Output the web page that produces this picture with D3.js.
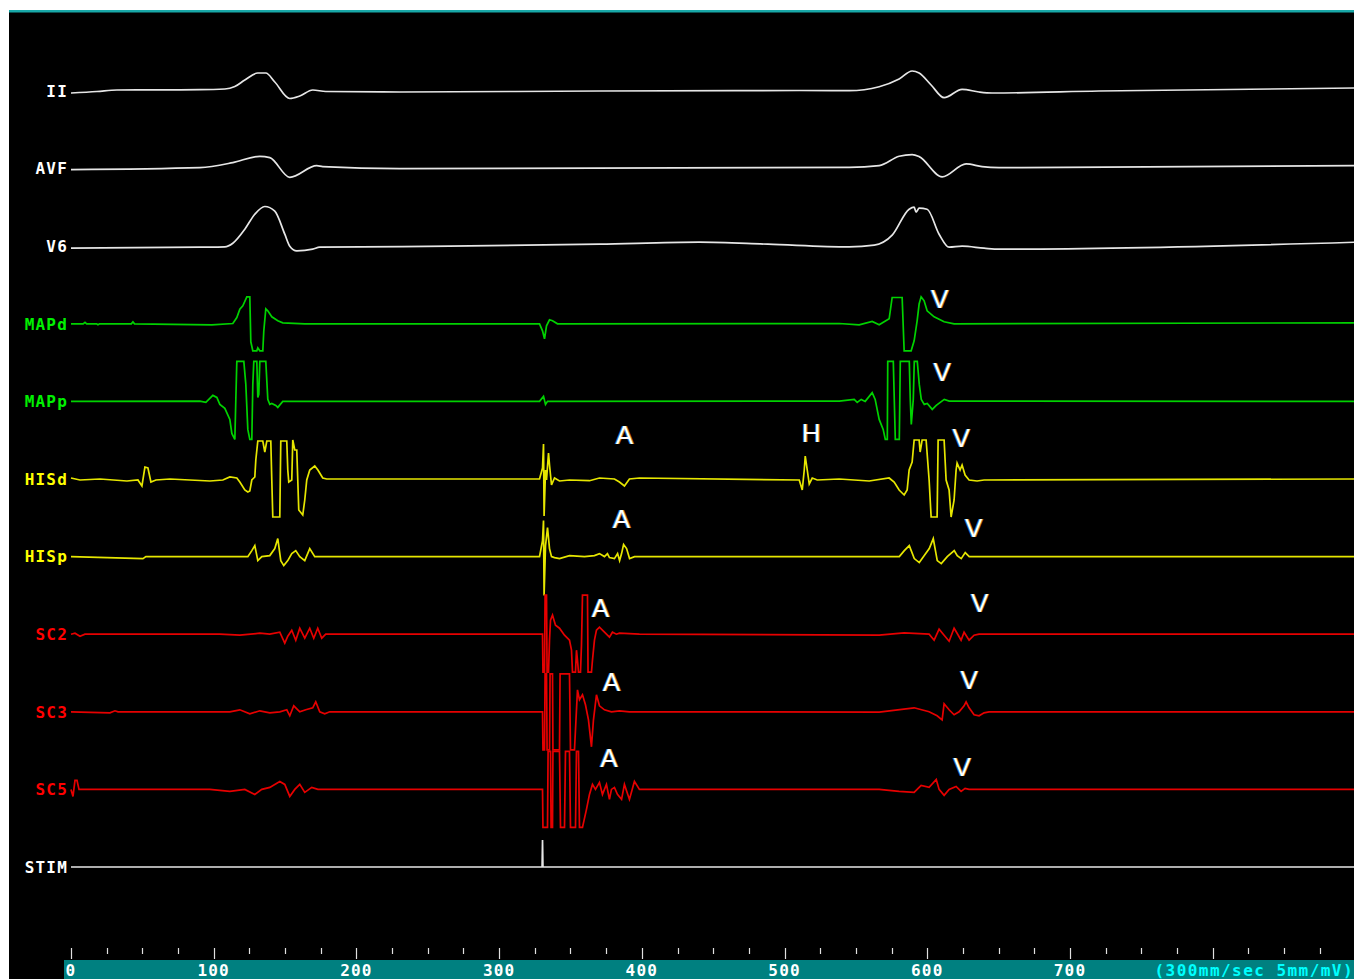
<!DOCTYPE html>
<html>
<head>
<meta charset="utf-8">
<script src="https://cdn.jsdelivr.net/npm/d3@7"></script>
<style>
  html, body { margin: 0; padding: 0; background: #ffffff; }
  svg { display: block; }
</style>
</head>
<body>
<svg id="chart" width="1354" height="979"></svg>
<script>
// Channel names, top to bottom
const channelNames = ["II", "AVF", "V6", "MAPd", "MAPp", "HISd", "HISp", "SC2", "SC3", "SC5", "STIM"];

// Time axis ticks (ms)
const majorTicks = [0, 100, 200, 300, 400, 500, 600, 700];
const minorStep = 25;
const sweepNote = "(300mm/sec 5mm/mV)";

// Samples: [time ms, amplitude]
const leadII = [[0,-2],[18.2,-0.5],[32.2,1],[90.3,1.3],[107.8,2],[114.8,4.5],[121.8,11],[130.9,18],[136.5,18],[142.8,9],[153.3,-7.5],[160.3,-5],[169.4,1],[178.5,-0.5],[230.3,-1],[370.3,0],[510.3,0.5],[545.3,0.3],[566.3,4.3],[580.3,12],[589.4,20],[594.3,18],[602.7,6],[611.8,-6.7],[624.4,1.7],[636.3,-1],[645.4,-2],[720.3,0],[900,3]];
const leadAVF = [[0,-1],[90.3,1],[113.4,6],[132.3,12.3],[139.3,11],[153.3,-8.7],[172.2,3],[176.4,2],[230.3,0],[545.3,1.3],[566.3,3],[580.3,12.3],[589.4,14],[594.3,12],[610.4,-8.3],[627.2,4.7],[638.4,2],[650.3,1],[900,3]];
const leadV6 = [[0,-2],[90.3,-1],[107.8,-0.7],[113.4,3],[121.8,17],[128.8,32],[135.8,39.7],[142.8,35],[149.8,12],[153.3,0],[158.2,-4.7],[169.4,-3],[174.3,-1],[265.3,0],[370.3,2],[440.3,4],[488.3,2],[545.3,-0.7],[562.8,1],[575.4,11],[587.3,37],[590.8,39],[592.2,34],[594.3,38],[599.9,37],[608.3,12],[615.3,-1],[624.4,0],[639.8,-2],[650.3,-3],[900,4]];
const mapD = [[0,0],[8.5,0],[9.8,1.5],[11,0],[18,0],[18.9,-1],[20,0],[42.3,0],[43.4,2],[44.5,0],[98.7,-1],[113.4,0.3],[116.2,6.3],[118.3,14.7],[120.4,18],[123.2,27],[125.3,27],[126,-18],[127.4,-27],[130.2,-27],[130.9,-24],[132.3,-27],[134.4,-27],[135.1,-7],[136.5,15],[137.9,13],[140.7,7],[144.9,3],[148.4,1],[163.8,0],[328.3,0],[330.4,-7],[331.8,-15],[333.2,-2],[335.3,4],[337.4,3],[340.9,0],[538.3,0.3],[552.3,-1],[561.4,2.3],[566.3,-1],[573.3,5],[575.4,26.3],[582.4,26.3],[583.8,-27],[588.7,-27],[590.8,-17],[592.9,3],[594.3,20],[595.7,27],[597.8,23],[599.9,13],[604.8,7],[611.8,2],[618.8,0],[900,1]];
const mapP = [[0,0],[90.3,0.3],[94.5,-1],[99.4,6],[102.2,4],[104.3,-3],[107.8,-7],[111.3,-18],[112.7,-32],[114.8,-38],[115.5,2],[116.2,40],[121.1,40],[122.5,17],[123.9,-28],[125.3,-38],[126.7,-38],[127.4,17],[128.1,40],[130.2,40],[130.9,4],[131.6,7],[132.3,40],[136.5,40],[137.9,2],[139.3,-3],[140.7,-2],[143.5,-4],[144.9,-6],[148.4,0],[328.3,0],[331.1,5],[332.5,-3],[333.9,0],[538.3,0.3],[548.8,2],[550.9,-1],[553.7,2],[556.5,0],[561.4,8.7],[563.5,2],[566.3,-18],[569.1,-28],[570.6,-38],[572,-38],[572.3,40],[576.2,40],[577.6,-38],[580.4,-38],[581.1,40],[587.4,40],[588.1,2],[588.8,-23],[590.2,2],[590.9,40],[593,40],[594.4,17],[595.8,2],[597.9,-3],[600,-2],[603.5,-8],[606.3,-4],[611.9,2],[615.4,0.3],[900,0]];
const hisD = [[0,1],[6.3,-1],[20.3,0],[39.2,-2],[46.9,-1],[49.7,-7],[51.8,12],[53.9,11],[56,-3],[59.5,-1],[69.3,0],[97.3,-2],[106.4,-1],[111.3,2],[116.2,1],[118.3,-3],[121.8,-11],[123.9,-13],[125.3,-12],[126.7,-1],[128.8,2],[129.5,19],[130.9,38],[134.4,38],[135.8,27],[137.2,38],[140,38],[140.7,-1],[141.4,-38],[146.3,-38],[147,38],[151.2,38],[151.9,9],[152.6,-3],[154.7,-1],[155.4,39],[156.8,29],[158.2,29],[158.9,-1],[159.6,-31],[162.4,-36],[163.8,-21],[165.2,-1],[167.3,9],[170.8,13],[173,9],[176.4,1],[179.2,0],[328.3,0],[330.4,11],[331.1,35],[331.5,-37],[332.5,9],[333.2,-1],[334.6,26],[335.3,14],[336.7,-6],[338.8,1],[342.3,-2],[349.3,-1],[363.3,-1.7],[370.3,1],[380.8,0],[384.3,-3],[387.8,-7],[391.3,0],[398.3,1],[510.3,-1],[512.4,-11],[513.8,9],[514.5,23],[515.9,9],[517.3,-5],[519.4,1],[522.9,-1],[538.3,0],[559.3,-2],[573.3,1],[576.8,-3],[580.3,-11],[583.8,-16],[585.9,-11],[587.3,9],[589.4,17],[590.8,39],[594.3,39],[595,27],[596.4,39],[599.2,39],[601.3,-1],[602.7,-38],[606.9,-38],[607.6,39],[611.8,39],[613.2,-1],[615.3,-11],[616.7,-38],[618.8,-21],[620.2,9],[620.9,16],[623,9],[624.4,14],[626.5,4],[629.3,-1],[634.9,-2],[639.8,-1],[900,0]];
const hisP = [[0,0],[50.4,-2],[52.5,0],[123.9,0],[126.7,6],[128.8,11],[130.9,-4],[133.7,0],[139.3,1],[142.8,8],[144.9,18],[147,-4],[149.1,-9],[151.9,-4],[154.7,3],[157.5,6],[160.3,0],[163.8,-4],[167.3,8],[170.8,0],[328.3,0],[330.4,16],[331.1,36],[331.5,-39],[332.5,11],[333.9,29],[335.3,8],[336.7,0],[338.8,-1],[342.3,-2],[349.3,1],[359.8,0],[366.8,1],[370.3,3],[373.8,0],[375.9,3],[377.3,-1],[380.8,-2],[383,3],[384.4,-4],[385.8,3],[387.2,12],[389.3,8],[391.4,-2],[394.9,0],[580.4,0],[583.9,6],[587.4,11],[590.9,-2],[594.4,-6],[597.9,1],[601.4,8],[604.2,18],[607,-4],[609.8,-7],[614,0],[618.9,6],[621,1],[623.8,-2],[626.6,4],[629.4,0],[900,0]];
const cs2 = [[0,0],[2.8,1],[6.3,-2],[9.8,0],[104.3,0],[118.3,-1],[132.3,1],[139.3,0],[146.3,2],[149.8,-9],[151.9,-2],[154.7,4],[157.5,-6],[160.3,6],[163.8,-4],[167.3,6],[170.1,-4],[172.9,6],[175.7,-4],[178.5,0],[330.4,0],[330.7,-38],[331.8,-38],[332.2,39],[333.2,39],[333.6,-38],[334.6,-38],[335.3,-6],[336,14],[337.4,19],[339.5,9],[342.3,6],[345.8,-1],[349.3,-6],[350.7,-16],[351.4,-38],[353.5,-38],[354.2,-16],[354.9,-26],[355.6,-38],[357,-38],[357.7,-11],[358.4,39],[361.9,39],[362.3,-38],[364.7,-38],[365.4,-26],[366.8,-6],[368.2,4],[370.3,7],[373.8,2],[377.3,-3],[379.4,2],[382.2,0],[384.3,1],[398.3,0],[566.3,-1],[583.8,1.3],[601.3,0],[604.8,-6],[608.3,5],[611.8,-1],[615.3,-7],[618.8,6],[620.9,1],[623.7,-6],[625.8,2],[629.3,-6],[632.8,-1],[636.3,0],[900,0]];
const cs3 = [[0,0],[27.3,-1],[30.8,1],[33,0],[111.3,0],[118.3,2],[125.3,-2],[132.3,1],[139.3,-1],[146.3,0],[151.2,2],[153.3,-4],[156.1,6],[160.3,0],[164.5,2],[169.4,4],[171.5,10],[174.3,0],[177.8,-2],[181.3,0],[330.4,0],[330.7,-38],[331.8,-38],[332.2,38],[333.2,38],[333.6,-38],[335.3,-38],[335.7,38],[337.4,38],[337.7,-38],[342.3,-38],[342.7,38],[349.3,38],[350,-38],[352.8,-38],[354.9,22],[356.3,12],[358.4,17],[360.5,7],[362.6,-8],[364.7,-35],[366.1,-8],[368.2,17],[370.3,6],[373.8,2],[378.7,0],[384.3,1],[391.3,0],[566.3,-0.3],[590.8,4],[601.3,0],[606.9,-4],[610.4,-8],[611.8,8],[615.3,2],[618.8,-3],[622.3,0],[625.8,6],[627.2,10],[629.3,4],[632.8,-3],[636.3,-4],[639.8,-1],[643.3,0],[900,0]];
const cs5 = [[0,0],[1.4,-7],[2.8,9],[4.2,9],[5.6,0],[97.3,0],[111.3,-2],[121.8,0],[128.8,-5],[133.7,0],[139.3,2],[146.3,8],[149.8,5],[153.3,-7],[156.8,0],[160.3,5],[163.8,-3],[168.7,2],[173,0],[330.4,0],[330.7,-38],[333.9,-38],[334.3,38],[336,38],[336.4,-38],[337.4,-38],[337.7,38],[342.3,38],[343,-38],[345.8,-38],[346.5,38],[349.3,38],[350,-38],[353.5,-38],[354.2,38],[355.6,38],[356.3,-38],[358.4,-38],[361.2,-20],[363.3,-5],[365.4,5],[367.5,0],[370.3,7],[372.4,-5],[375.2,5],[377.3,-10],[378.7,0],[380.8,2],[382.9,-5],[385.8,-10],[387.8,5],[391.3,-10],[394.8,8],[398.3,0],[566.3,0],[580.3,-2],[590.8,-3],[594.3,2],[595.7,4],[601.3,2],[606.3,10],[608.3,0],[611.8,-6],[615.3,0],[620.2,3],[623.7,-2],[626.5,1],[629.3,0],[900,0]];
const stim = [[0,0],[330.1,0],[330.4,27],[330.7,0],[900,0]];

const channelSamples = [leadII, leadAVF, leadV6, mapD, mapP, hisD, hisP, cs2, cs3, cs5, stim];
const traceColors = ["#e6e6e6", "#e6e6e6", "#e6e6e6", "#00d200", "#00d200", "#e6e600", "#e6e600", "#e60000", "#e60000", "#e60000", "#e6e6e6"];
const labelColors = ["#ffffff", "#ffffff", "#ffffff", "#00f000", "#00f000", "#ffff00", "#ffff00", "#ff0000", "#ff0000", "#ff0000", "#ffffff"];
// surface leads are drawn as smooth curves
const smoothLeads = ["II", "AVF", "V6"];

// Event markers: [text, channel, time ms, amplitude]
const markers = [
  ["V", "MAPd", 608.7, 25.5],
  ["V", "MAPp", 610.4, 30],
  ["A", "HISd", 387.8, 44],
  ["H", "HISd", 518.7, 46],
  ["V", "HISd", 623.7, 41],
  ["A", "HISp", 385.7, 38],
  ["V", "HISp", 632.5, 28.5],
  ["A", "SC2", 371, 27],
  ["V", "SC2", 636.7, 32],
  ["A", "SC3", 378.7, 30],
  ["V", "SC3", 629.3, 32],
  ["A", "SC5", 376.9, 32],
  ["V", "SC5", 624.4, 23]
];

const svg = d3.select("#chart");
const W = 1354, H = 979;

// panel background and top rule
svg.append("rect").attr("x", 9).attr("y", 12).attr("width", W - 9).attr("height", H - 12).attr("fill", "#000000");
svg.append("rect").attr("x", 9).attr("y", 10).attr("width", W - 9).attr("height", 2.5).attr("fill", "#18a8a8");

const x = d3.scaleLinear().domain([0, 900]).range([71, 1355.4]);
const rowY = d3.scalePoint().domain(channelNames).range([91, 867]);
const amp = d3.scaleLinear().domain([-50, 50]).range([50, -50]);

const monoFont = "'DejaVu Sans Mono', 'Liberation Mono', monospace";

// traces
channelNames.forEach((name, i) => {
  const g = svg.append("g").attr("transform", `translate(0,${rowY(name)})`);
  const line = d3.line()
    .x(d => x(d[0]))
    .y(d => amp(d[1]))
    .curve(smoothLeads.includes(name) ? d3.curveMonotoneX : d3.curveLinear);
  g.append("path")
    .datum(channelSamples[i])
    .attr("d", line)
    .attr("fill", "none")
    .attr("stroke", traceColors[i])
    .attr("stroke-width", 1.7)
    .attr("stroke-linejoin", "miter");
  svg.append("text")
    .attr("x", 68)
    .attr("y", rowY(name))
    .attr("dy", "0.36em")
    .attr("text-anchor", "end")
    .attr("font-family", monoFont)
    .attr("font-weight", "bold")
    .attr("font-size", 16)
    .attr("letter-spacing", 1.2)
    .attr("fill", labelColors[i])
    .text(name);
});

// event markers with slight colour fringing
const mk = svg.append("g").attr("font-family", "'Liberation Sans', Arial, sans-serif").attr("font-size", 26).attr("text-anchor", "middle");
markers.forEach(m => {
  const cx = x(m[2]);
  const cy = rowY(m[1]) + amp(m[3]);
  [["#3aa0ff", -0.9, 0.7], ["#ffb030", 0.9, 0.7], ["#ffffff", 0, 1]].forEach(([c, off, op]) => {
    mk.append("text")
      .attr("x", cx + off)
      .attr("y", cy)
      .attr("dy", "0.36em")
      .attr("fill", c)
      .attr("opacity", op)
      .text(m[0]);
  });
});

// time axis band
svg.append("rect").attr("x", 64).attr("y", 960).attr("width", W - 64).attr("height", H - 960).attr("fill", "#008080");

const allTicks = d3.range(0, 900, minorStep);
svg.append("g").selectAll("line")
  .data(allTicks)
  .join("line")
  .attr("x1", d => Math.round(x(d)) + 0.5)
  .attr("x2", d => Math.round(x(d)) + 0.5)
  .attr("y1", 948)
  .attr("y2", d => d % 100 === 0 ? 959 : 954)
  .attr("stroke", "#e0e0e0")
  .attr("stroke-width", 1.2);

svg.append("g").selectAll("text")
  .data(majorTicks)
  .join("text")
  .attr("x", d => x(d))
  .attr("y", 976)
  .attr("text-anchor", "middle")
  .attr("font-family", monoFont)
  .attr("font-weight", "bold")
  .attr("font-size", 16)
  .attr("letter-spacing", 1.2)
  .attr("fill", "#ffffff")
  .text(d => d);

svg.append("text")
  .attr("x", 1354)
  .attr("y", 976)
  .attr("text-anchor", "end")
  .attr("font-family", monoFont)
  .attr("font-weight", "bold")
  .attr("font-size", 16)
  .attr("letter-spacing", 1.45)
  .attr("fill", "#00ffff")
  .text(sweepNote);
</script>
</body>
</html>
